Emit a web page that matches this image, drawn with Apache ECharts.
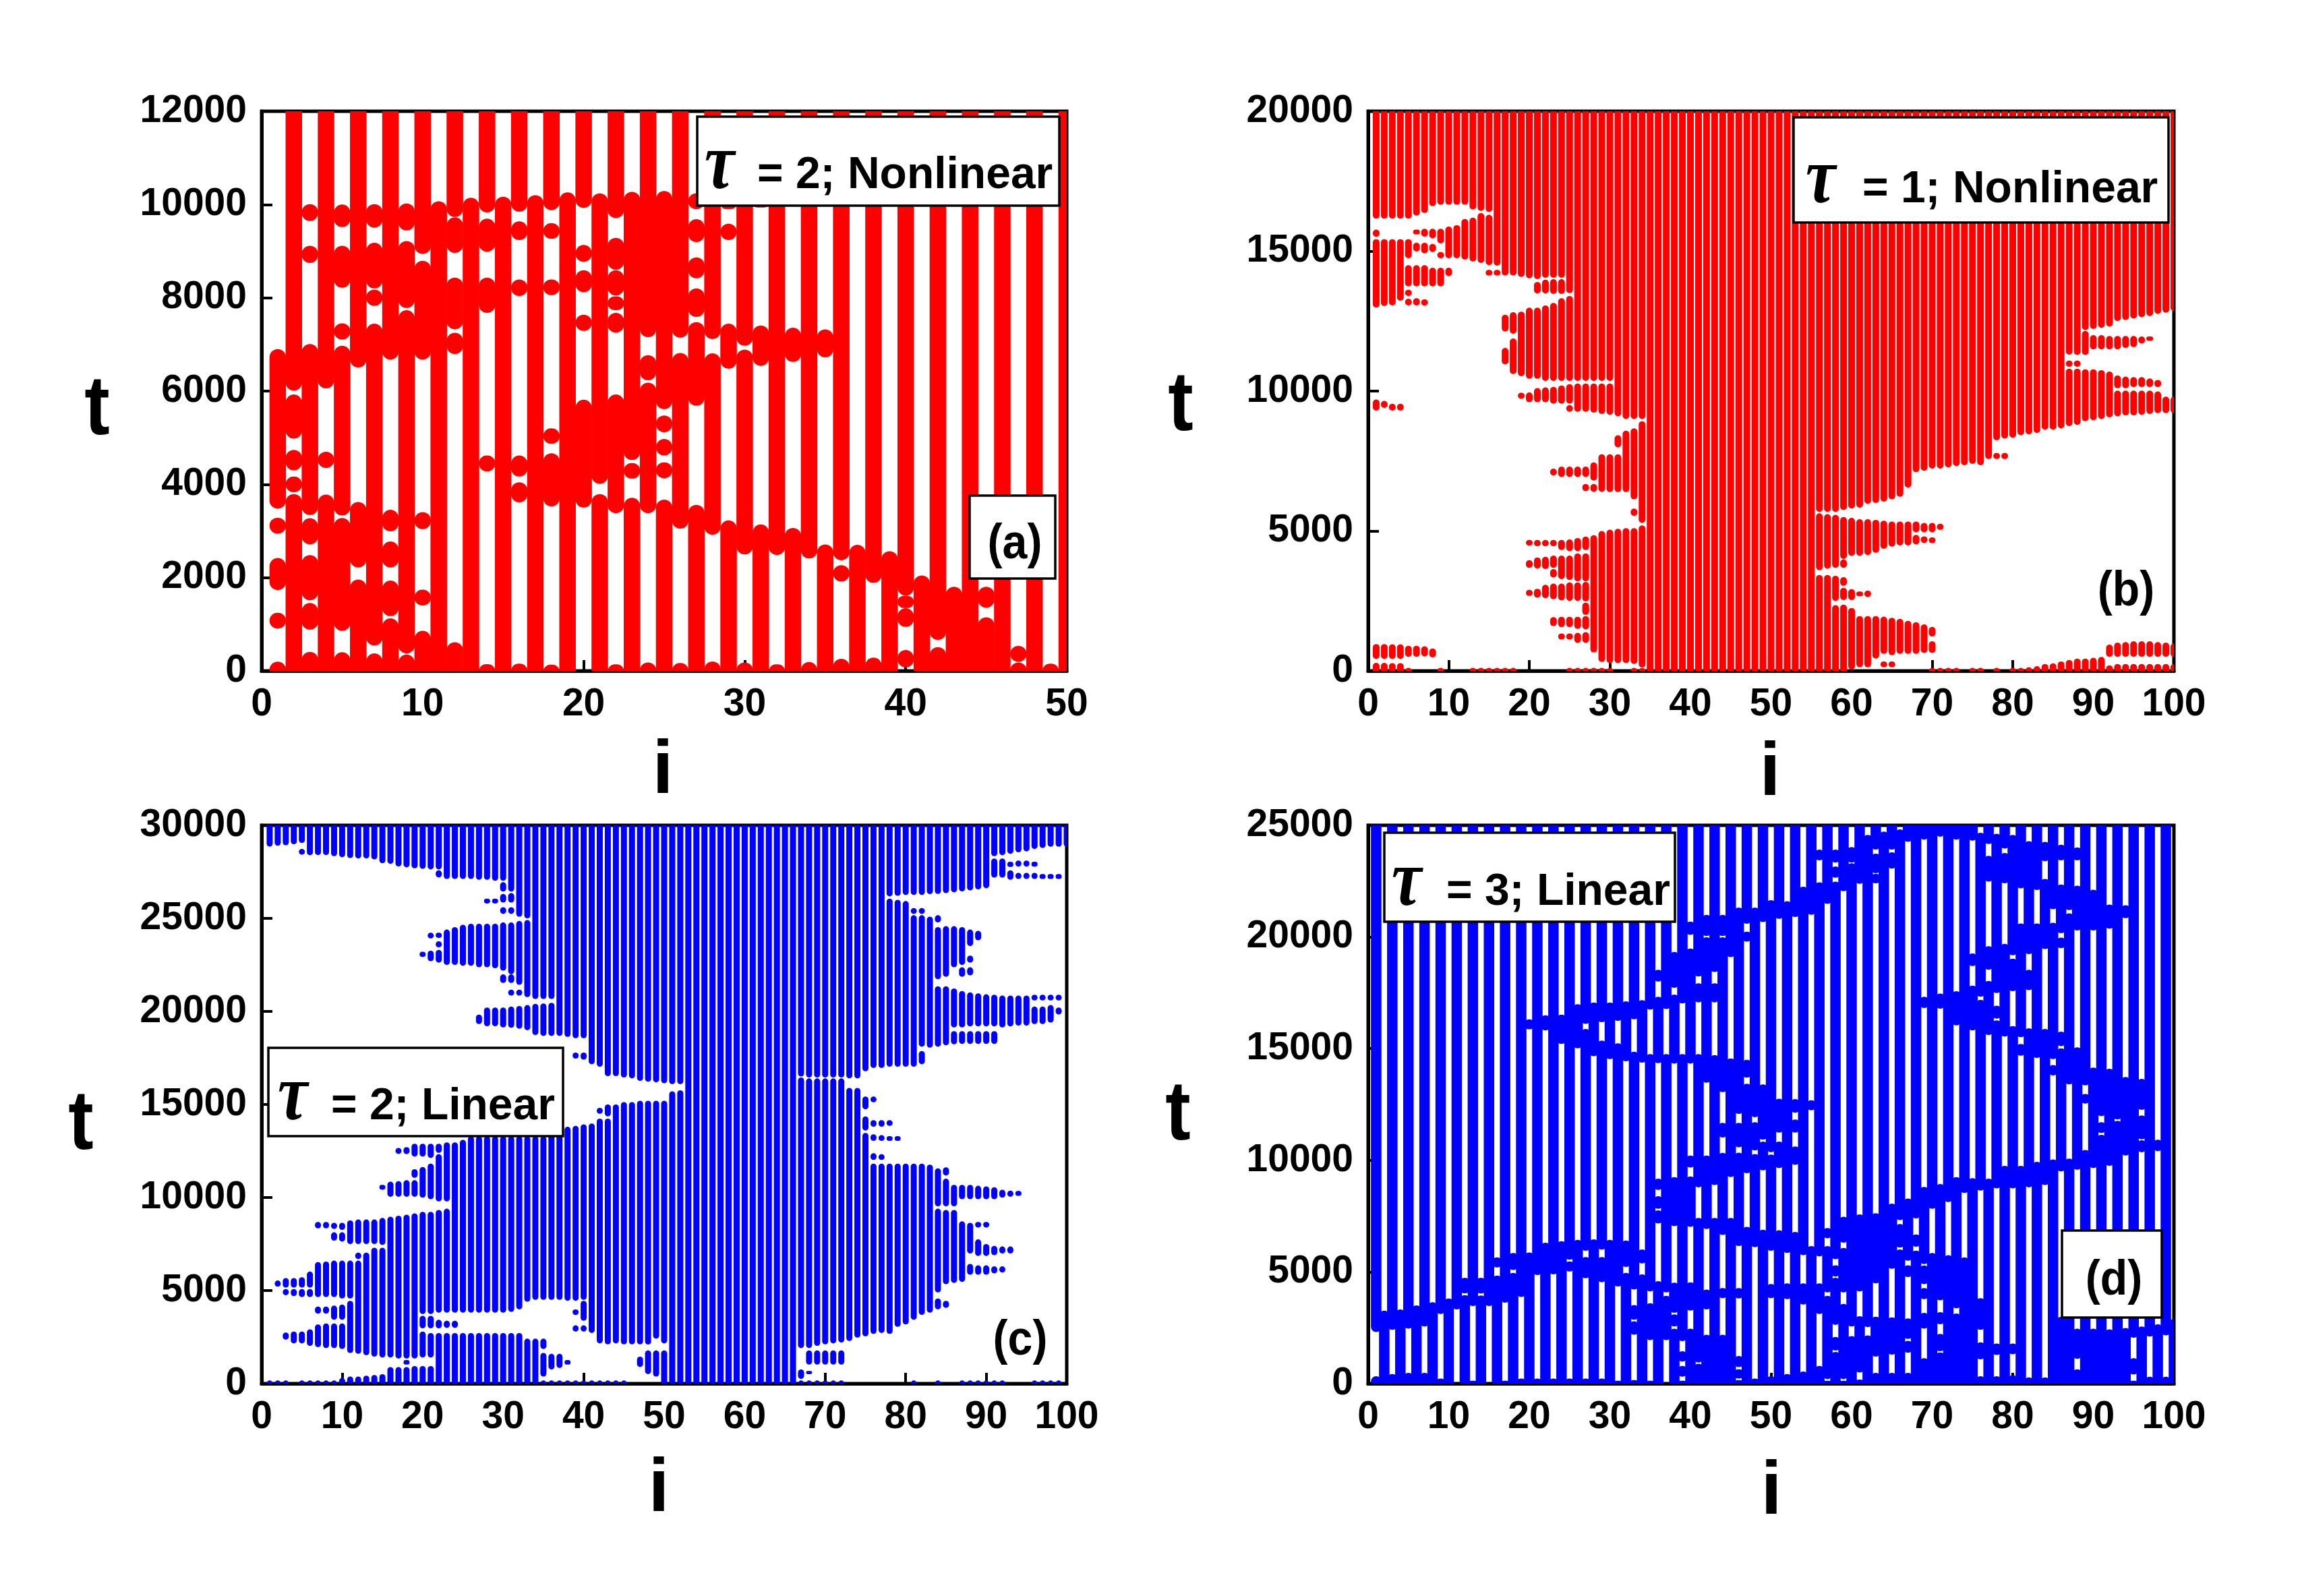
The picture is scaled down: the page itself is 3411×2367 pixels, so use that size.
<!DOCTYPE html>
<html><head><meta charset="utf-8"><style>html,body{margin:0;padding:0;background:#fff}#c{width:3411px;height:2367px}</style>
<script src="https://cdn.jsdelivr.net/npm/echarts@6/dist/echarts.min.js"></script></head><body><div id="c"></div>
<script>
const ticksXa=[0,10,20,30,40,50];
const ticksXb=[0,10,20,30,40,50,60,70,80,90,100];
const ticksYa=[0,2000,4000,6000,8000,10000,12000];
const ticksYb=[0,5000,10000,15000,20000];
const ticksYc=[0,5000,10000,15000,20000,25000,30000];
const ticksYd=[0,5000,10000,15000,20000,25000];
const L=-200,Ta=12400,Tb=20300,Tc=30300,Td=25500;
// occupied t-ranges per site i (index 0 is i=1)
const runsA=[
[[-170,200],[907,1247],[1732,2421],[2945,3283],[3478,6900]],
[[L,3793],[3832,4167],[4300,4739],[4980,5927],[6010,Ta]],
[[L,408],[883,1456],[1514,2484],[2712,3274],[3342,7010],[8746,9117],[9647,10009]],
[[L,3779],[4350,4700],[6057,Ta]],
[[L,400],[858,3280],[3332,6972],[7107,7454],[8216,9117],[9517,10000]],
[[L,1960],[2217,3623],[6505,Ta]],
[[L,375],[544,7445],[7830,8177],[8200,9180],[9503,10009]],
[[L,1126],[1174,1936],[2217,2775],[2993,3454],[6674,Ta]],
[[L,350],[374,7734],[7782,9218],[9445,10023]],
[[L,859],[1402,1742],[3040,3405],[6674,8794],[8940,Ta]],
[[L,10070]],
[[L,616],[6794,7252],[7324,8433],[8963,9725],[9734,Ta]],
[[L,10144]],
[[-170,146],[4278,4618],[7676,8433],[8987,9696],[9830,Ta]],
[[L,10168]],
[[-170,156],[3614,4045],[4167,4618],[8038,8394],[9238,9638],[9845,Ta]],
[[L,10200]],
[[-170,132],[3527,4666],[4870,5200],[8057,8394],[9267,9599],[9879,Ta]],
[[L,10260]],
[[3502,5815],[7290,7637],[8120,8592],[8770,9132],[9927,Ta]],
[[L,3793],[4011,10240]],
[[-170,140],[3381,5927],[7252,7676],[7734,8033],[8047,8592],[8600,9286],[9710,Ta]],
[[L,3711],[4123,4458],[4520,10274]],
[[-170,180],[3381,6182],[6230,6770],[7155,Ta]],
[[L,3672],[4133,4472],[4618,4972],[5117,5476],[5612,10289]],
[[-170,170],[3051,6818],[7146,Ta]],
[[L,3560],[5685,7478],[7590,8202],[8418,8867],[9195,9686],[9900,10240]],
[[-170,204],[2920,6808],[7117,Ta]],
[[L,3226],[6480,7445],[9238,9590],[9900,10144]],
[[-170,180],[2498,6890],[6972,Ta]],
[[L,3140],[6540,7406],[9935,10140]],
[[-170,140],[2484,Ta]],
[[L,3066],[6625,7358]],
[[-170,190],[2410,Ta]],
[[L,2712],[6722,7324]],
[[-170,262],[1916,2266],[2372,Ta]],
[[L,2702]],
[[-170,287],[1887,Ta]],
[[L,2566]],
[[73,447],[942,1344],[1350,1610],[1615,Ta]],
[[L,2047]],
[[-170,510],[665,Ta]],
[[L,1805]],
[[L,Ta]],
[[L,1150],[1354,1805]],
[[L,Ta]],
[[-170,180],[195,534]],
[[L,Ta]],
[[-170,156]],
[[L,Ta]]
];
const runsB=[
[[-120,290],[430,960],[9300,9700],[12980,15430],[15510,15770],[16160,Tb]],
[[-120,290],[430,960],[9400,9650],[13040,15430],[16160,Tb]],
[[-120,280],[430,950],[9300,9550],[13060,15430],[16160,Tb]],
[[-120,280],[430,950],[9300,9550],[13230,15430],[16160,Tb]],
[[-120,110],[500,900],[13060,13300],[13400,13620],[13740,14500],[14750,15430],[16160,Tb]],
[[500,900],[13060,13320],[13740,14500],[14990,15300],[15600,15770],[16270,Tb]],
[[520,880],[13060,13280],[13740,14500],[14920,15300],[15520,15800],[16360,Tb]],
[[480,800],[13740,14410],[14970,15260],[15460,15800],[16610,Tb]],
[[-120,110],[13740,14410],[14750,14970],[15280,15800],[16660,Tb]],
[[14110,14410],[14750,15880],[16660,Tb]],
[[14750,15930],[16660,Tb]],
[[14700,16150],[16660,Tb]],
[[-120,110],[14630,16200],[16490,Tb]],
[[-120,110],[14580,16360],[16440,Tb]],
[[-120,110],[14130,14330],[14500,16300],[16400,Tb]],
[[-120,110],[14130,14330],[14480,Tb]],
[[-120,110],[10950,11540],[12130,12730],[14130,Tb]],
[[-120,110],[10610,11880],[12050,12820],[14130,Tb]],
[[9730,9940],[10530,12840],[14080,Tb]],
[[2680,2900],[3680,3960],[4480,4680],[9600,9950],[10440,12980],[14030,Tb]],
[[2616,2936],[3656,4056],[4456,4680],[9600,10110],[10440,12980],[13490,13900],[14000,Tb]],
[[2600,3080],[3640,4080],[4456,4680],[9600,10130],[10360,13060],[13490,13980],[14050,Tb]],
[[1600,1920],[2560,3120],[3336,3640],[3680,4120],[4456,4680],[6980,7230],[9550,10150],[10360,13150],[13470,14000],[14050,Tb]],
[[1120,1336],[1560,1936],[2520,3120],[3280,4120],[4320,4680],[6930,7300],[9550,10200],[10360,13320],[13470,14000],[14050,Tb]],
[[-120,110],[1120,1336],[1560,1936],[2500,3160],[3250,4120],[4280,4700],[6930,7300],[9260,9500],[9550,10250],[10360,13400],[13500,Tb]],
[[-120,110],[1000,1360],[1500,1936],[2500,3160],[3200,4200],[4280,4750],[6930,7300],[9260,10270],[10360,Tb]],
[[-120,110],[1000,1384],[1480,1960],[2000,2440],[2480,3180],[3200,4200],[4320,4800],[6420,6680],[6930,7300],[9260,10270],[10360,Tb]],
[[-120,110],[660,4850],[6400,6680],[6800,7450],[9230,10270],[10360,Tb]],
[[-120,110],[320,5000],[6400,7740],[9180,10270],[10360,Tb]],
[[-120,110],[280,5050],[6390,7740],[9150,10270],[10360,Tb]],
[[280,5080],[6390,7740],[7990,8420],[9100,Tb]],
[[280,5100],[6390,8585],[9000,Tb]],
[[-120,110],[250,5100],[5540,5800],[6130,8670],[9000,Tb]],
[[-120,110],[120,5200],[5290,8920],[9000,Tb]],
[[L,Tb]],[[L,Tb]],[[L,Tb]],[[L,Tb]],[[L,Tb]],[[L,Tb]],[[L,Tb]],[[L,Tb]],[[L,Tb]],[[L,Tb]],
[[L,Tb]],[[L,Tb]],[[L,Tb]],[[L,Tb]],[[L,Tb]],[[L,Tb]],[[L,Tb]],[[L,Tb]],[[L,Tb]],[[L,Tb]],[[L,Tb]],
[[L,3430],[3600,5630],[5680,Tb]],
[[L,3430],[3650,5600],[5680,Tb]],
[[L,2350],[2500,3400],[3680,5580],[5680,Tb]],
[[L,2370],[2530,2970],[3040,3350],[3680,3980],[4000,5500],[5750,Tb]],
[[50,2250],[2530,2920],[4110,5470],[5800,Tb]],
[[130,1960],[2670,2840],[4110,5420],[5830,Tb]],
[[130,1960],[2640,2870],[4140,5420],[5970,Tb]],
[[440,1960],[4220,5400],[6000,Tb]],
[[135,340],[610,1940],[4360,5370],[6050,Tb]],
[[135,340],[560,1900],[4440,5340],[6130,Tb]],
[[610,1860],[4480,5340],[6220,Tb]],
[[610,1790],[4480,5340],[6550,Tb]],
[[610,1740],[4520,4860],[4950,5340],[7100,Tb]],
[[640,1660],[4570,4810],[4950,5290],[7150,Tb]],
[[-120,110],[640,1060],[1230,1570],[4570,4770],[4950,5290],[7230,Tb]],
[[-120,110],[5040,5260],[7230,Tb]],
[[-120,110],[7270,Tb]],
[[-120,110],[7320,Tb]],
[[7350,Tb]],
[[-120,110],[7400,Tb]],
[[-120,110],[7350,Tb]],
[[7570,Tb]],
[[-120,110],[7570,7790],[8240,Tb]],
[[7570,7790],[8300,Tb]],
[[-120,110],[8330,Tb]],
[[-120,110],[8420,Tb]],
[[-120,130],[8450,Tb]],
[[-120,170],[8500,Tb]],
[[-120,250],[8620,Tb]],
[[-120,270],[8620,Tb]],
[[-120,340],[8670,Tb]],
[[-120,390],[8750,10800],[10870,11090],[11300,Tb]],
[[-120,440],[8790,10800],[10870,11090],[11290,Tb]],
[[-120,440],[8920,10780],[11290,12150],[12180,Tb]],
[[-120,470],[8960,10780],[11490,12000],[12220,Tb]],
[[-120,500],[9000,10750],[11490,12000],[12260,Tb]],
[[-120,200],[500,940],[9060,10700],[11490,11970],[12300,Tb]],
[[-120,250],[500,1010],[9100,10020],[10100,10560],[11490,11970],[12500,Tb]],
[[-120,250],[500,1030],[9130,10020],[10100,10520],[11540,11970],[12540,Tb]],
[[-120,250],[500,1060],[9130,10020],[10140,10500],[11570,11970],[12590,Tb]],
[[-120,250],[500,1060],[9150,10020],[10140,10500],[11700,11950],[12640,Tb]],
[[-120,250],[500,1060],[9180,10020],[10140,10450],[11800,11950],[12680,Tb]],
[[-120,250],[500,1030],[9210,9990],[10140,10400],[12760,Tb]],
[[-120,250],[500,1010],[9210,9800],[12800,Tb]],
[[-120,250],[500,980],[9210,9800],[12860,Tb]]
];
const runsC=[
[[-170,170],[28860,Tc]],
[[-170,170],[5210,5540],[28900,Tc]],
[[-170,170],[2360,2745],[4750,5080],[5160,5670],[28930,Tc]],
[[2160,2800],[4700,5080],[5160,5670],[28980,Tc]],
[[-170,170],[2160,2800],[4650,5080],[5160,5720],[28420,28730],[29050,Tc]],
[[-170,170],[2030,2920],[4650,5080],[5160,6020],[28390,Tc]],
[[-170,170],[1960,3180],[3760,4140],[4650,6530],[8340,8690],[28400,Tc]],
[[-170,170],[1910,3230],[3760,4140],[4650,6560],[8340,8690],[28400,Tc]],
[[-170,170],[1910,3230],[3430,4190],[4650,6610],[7680,8130],[8310,8640],[28340,Tc]],
[[-170,305],[1860,3230],[3430,4245],[4575,6610],[7630,8130],[8260,8640],[28290,Tc]],
[[-170,380],[1650,4450],[4575,6610],[7500,8770],[28240,Tc]],
[[-170,380],[1600,6610],[6690,7040],[7500,8820],[28220,Tc]],
[[-170,430],[1525,7040],[7500,8820],[28220,Tc]],
[[-170,460],[1450,7300],[7500,8820],[28170,Tc]],
[[-170,510],[1400,7300],[7450,8900],[10420,10680],[27960,Tc]],
[[-170,890],[1400,8970],[10040,10850],[27930,Tc]],
[[-170,890],[1350,9025],[10040,10880],[12350,12660],[27790,Tc]],
[[-170,890],[1020,1270],[1350,9075],[10040,10930],[12330,12710],[27740,Tc]],
[[-170,940],[1350,9150],[10040,10930],[11060,11520],[12200,12890],[27690,Tc]],
[[-170,940],[1400,2800],[2970,3640],[3740,9230],[9990,11640],[12200,12890],[22930,23210],[27660,Tc]],
[[-170,940],[1400,2720],[2970,3640],[3740,9230],[9910,11820],[12130,12890],[22700,23260],[23920,24230],[27630,Tc]],
[[-170,2720],[2970,3430],[3810,9330],[9790,12330],[12400,12890],[22620,23310],[23440,23770],[23950,24230],[27200,27580],[27630,Tc]],
[[-170,2720],[3000,3380],[3810,9400],[9790,12960],[22500,24400],[27120,Tc]],
[[-170,2720],[3000,3380],[3810,12960],[22500,24530],[27120,Tc]],
[[-170,2720],[3810,13100],[22450,24660],[27120,Tc]],
[[-170,2720],[3810,13290],[22450,24710],[27120,Tc]],
[[-170,2720],[3810,13290],[19320,19830],[22370,24710],[27070,Tc]],
[[-170,2720],[3810,13290],[19200,20210],[22370,24710],[25800,26060],[27070,Tc]],
[[-170,2720],[3810,13290],[19200,20210],[22320,24710],[25800,26060],[27020,Tc]],
[[-170,2720],[3810,13290],[19140,20210],[21530,21990],[22190,24780],[25240,25600],[25850,26310],[26440,26945],[27020,Tc]],
[[-170,2720],[3860,13290],[19120,20260],[20850,21170],[21530,21990],[22000,24780],[25240,25600],[25850,26360],[26440,Tc]],
[[-170,2720],[3990,13290],[19070,20290],[20850,21170],[21430,24860],[25090,Tc]],
[[-170,2415],[4400,13290],[18990,20340],[20770,24910],[25000,Tc]],
[[-170,2415],[4500,13290],[18730,20410],[20670,Tc]],
[[-170,170],[380,1650],[1860,2415],[4500,13290],[18680,20430],[20670,Tc]],
[[-170,170],[760,1600],[4500,13730],[18680,20460],[20670,Tc]],
[[-170,170],[840,1600],[4500,13800],[18680,Tc]],
[[-170,170],[1020,1270],[4450,13800],[18630,Tc]],
[[-170,170],[2800,3130],[3690,3990],[4450,13850],[17460,17790],[18560,Tc]],
[[-170,170],[2800,3130],[3380,4450],[4500,13930],[17410,17790],[18560,Tc]],
[[-170,170],[2720,13980],[17160,Tc]],
[[-170,170],[2160,14240],[14500,14820],[17030,Tc]],
[[-170,170],[2110,14240],[14360,15000],[16520,Tc]],
[[-170,170],[2160,15000],[16520,Tc]],
[[-170,170],[2110,15125],[16450,Tc]],
[[2110,15125],[16400,Tc]],
[[890,1450],[2110,15200],[16270,Tc]],
[[510,1780],[2100,15200],[16220,Tc]],
[[380,1780],[2415,15200],[16190,Tc]],
[[L,1780],[2160,15200],[16140,Tc]],
[[L,15710],[16090,Tc]],
[[L,15760],[16090,Tc]],
[[L,Tc]],[[L,Tc]],[[L,Tc]],[[L,Tc]],[[L,Tc]],[[L,Tc]],[[L,Tc]],[[L,Tc]],[[L,Tc]],[[L,Tc]],[[L,Tc]],[[L,Tc]],[[L,Tc]],[[L,Tc]],
[[-170,170],[255,760],[1910,16450],[16500,Tc]],
[[-170,170],[510,680],[1020,1780],[1910,16400],[16450,Tc]],
[[-170,170],[1020,1780],[2030,16400],[16450,Tc]],
[[-170,170],[1020,1780],[2110,16400],[16450,Tc]],
[[-170,170],[1020,1780],[2160,16400],[16450,Tc]],
[[-170,170],[1020,1780],[2210,16400],[16450,Tc]],
[[2290,15890],[16400,Tc]],
[[2470,15890],[16400,Tc]],
[[2540,13470],[13600,14360],[14740,15430],[16780,Tc]],
[[2670,11820],[12020,12380],[13040,13400],[13800,14160],[15120,15430],[16960,Tc]],
[[2720,11820],[12020,12330],[13040,13350],[13800,14160],[16960,Tc]],
[[2670,11820],[13040,13300],[13850,14160],[17030,26060],[26180,Tc]],
[[3050,11820],[13040,13300],[17030,26000],[26210,Tc]],
[[3180,11820],[17030,25930],[26260,Tc]],
[[-170,170],[3430,11820],[17030,25170],[25240,25550],[26260,Tc]],
[[3690,11820],[17160,17870],[18100,25170],[25240,25550],[26260,Tc]],
[[3810,11770],[18050,25090],[26300,Tc]],
[[-170,170],[3990,4575],[4900,9400],[9530,11570],[18100,21350],[21730,24530],[24780,25170],[26310,Tc]],
[[4070,4450],[5340,9330],[9530,11010],[11180,11620],[18180,21350],[21860,24580],[26360,Tc]],
[[5410,9330],[9530,10680],[18230,18940],[19140,21230],[22370,24580],[26400,Tc]],
[[-170,170],[5465,8720],[9910,10680],[18250,18940],[19140,21100],[21860,22370],[22500,24530],[26450,Tc]],
[[-170,170],[5850,6430],[6990,8640],[9910,10680],[18250,18940],[19190,21020],[21940,22370],[22620,23000],[23510,24400],[26500,Tc]],
[[-170,170],[5850,6355],[6860,7750],[8390,8690],[9910,10630],[18250,18940],[19190,20970],[23820,24330],[26560,Tc]],
[[-170,170],[5850,6355],[6860,7500],[8390,8690],[9910,10600],[18250,18940],[19190,20920],[26620,Tc]],
[[-170,170],[5920,6300],[6900,7400],[9910,10550],[18250,18940],[19190,20900],[27190,28220],[28340,Tc]],
[[-170,170],[5970,6300],[6990,7370],[9990,10420],[19140,20850],[27190,28220],[28390,Tc]],
[[6990,7370],[10040,10370],[19190,20850],[27070,27580],[27760,28040],[28470,Tc]],
[[10090,10350],[19240,20850],[27120,27450],[27780,28110],[28550,Tc]],
[[19240,20850],[27120,27450],[27780,28110],[28600,Tc]],
[[-170,170],[19320,20260],[20590,20900],[27120,27450],[27780,28040],[28725,Tc]],
[[-170,170],[19320,20260],[20590,20900],[27120,27380],[28780,Tc]],
[[-170,170],[19400,20340],[20590,20900],[27120,27380],[28850,Tc]],
[[-170,170],[19830,20210],[20590,20900],[27120,27380],[28850,Tc]],
[[28850,Tc]]
];
// empty t-ranges per site i in panel (d)
const gapsD=[
[[330,2310]],
[[3270,Td]],
[[430,2410]],
[[3320,Td]],
[[480,2460]],
[[3500,Td]],
[[480,2560]],
[[3645,Td]],
[[230,3120]],
[[3810,Td]],
[[L,3320]],
[[3960,4040],[4740,Td]],
[[130,3470]],
[[3950,4030],[4740,Td]],
[[L,3470]],
[[4840,5200],[5650,Td]],
[[130,3625]],
[[4960,5090],[5850,Td]],
[[230,3880]],
[[5874,15863],[16315,Td]],
[[230,4860]],
[[6310,15810],[16490,Td]],
[[230,4890]],
[[6380,15210],[16520,Td]],
[[230,5020],[5470,5550]],
[[6440,15010],[16990,Td]],
[[230,4720],[5670,5950],[15880,16110]],
[[6460,14660],[17070,Td]],
[[230,4540],[5670,6000],[15360,16180]],
[[6440,14530],[17070,Td]],
[[130,4350],[15240,16240]],
[[4960,5225],[6410,14430],[17120,Td]],
[[160,2190],[2790,2860],[3520,4210],[14860,16310]],
[[4890,5380],[6005,14375],[17170,Td]],
[[130,1950],[3600,4130],[14760,16750]],
[[4590,7170],[7760,7830],[8390,8670],[9180,14350],[17320,18000],[18530,Td]],
[[L,1950],[3930,4080],[14760,16770]],
[[2460,2560],[3100,3170],[4520,7050],[9250,14330],[17420,17720],[19330,Td]],
[[130,310],[790,990],[1450,1900],[14760,17020]],
[[2460,3270],[4540,7020],[9280,9680],[10210,14330],[19480,20090],[20690,Td]],
[[890,940],[7420,8790],[14760,17070],[17930,18230]],
[[2190,3320],[4210,6920],[10210,13470],[19990,20040],[20990,Td]],
[[7420,8890],[14710,17070],[17930,18430]],
[[2190,3830],[4280,6660],[10330,11020],[11680,13050],[19990,20040],[20990,Td]],
[[7420,9250],[14560,19100]],
[[160,230],[640,740],[1240,3810],[4280,6160],[10340,10580],[11680,12080],[21320,Td]],
[[7020,9420],[13430,13700],[14500,19790],[20240,20590]],
[[230,6110],[10280,10440],[11710,11930],[21320,Td]],
[[6890,9550],[10840,10920],[13400,20670]],
[[330,3830],[4460,5950],[10260,10360],[21650,Td]],
[[6870,9650],[10840,11240],[12760,20810]],
[[430,3780],[4490,5850],[21600,Td]],
[[6790,9800],[10620,11240],[11830,12130],[12740,20890]],
[[540,3540],[4490,5750],[22250,Td]],
[[6160,12240],[12690,20990]],
[[790,3120],[4490,5700],[22450,23430],[23910,Td]],
[[130,200],[3930,4080],[6160,6510],[6970,21480]],
[[1420,1480],[2090,2630],[4740,4790],[5300,5570],[22480,22650],[23160,23330],[23910,Td]],
[[130,200],[3570,4080],[6080,6310],[7470,22050]],
[[2130,2560],[23300,23330],[24030,Td]],
[[180,500],[3020,4130],[7580,22380]],
[[2160,2530],[24570,Td]],
[[480,1210],[3000,4490],[7630,22400],[22825,22855],[23730,23910]],
[[24720,Td]],
[[480,1300],[2970,5140],[8060,23060],[23790,23910]],
[[6005,6090],[7150,7320],[24820,Td]],
[[480,1380],[1920,2000],[2920,4770],[5300,5500],[8290,24260]],
[[5955,6130],[6680,7400]],
[[1140,2460],[3170,3780],[4280,4450],[5290,5350],[8810,16820],[17320,24360]],
[[5850,7830]],
[[1400,1450],[2230,2660],[3200,3730],[8940,16790],[17470,24490]],
[[5750,8130]],
[[3140,3370],[9250,16040],[17570,24360]],
[[5650,8540]],
[[9200,15810],[17825,18700],[19260,24310]],
[[330,1090],[1850,2410],[3830,8640],[17190,17320],[24670,Td]],
[[9180,15610],[18030,18530],[19585,22480],[23630,24160]],
[[330,1280],[1800,8740],[16270,16340],[16920,17490],[24620,Td]],
[[9750,15540],[19690,22400],[23760,23960]],
[[380,1310],[1800,8740],[16010,17570],[19030,19180],[24570,Td]],
[[9750,14680],[15210,15510],[20610,22180]],
[[280,8790],[15910,17620],[18530,19230],[24290,Td]],
[[9930,14580],[20610,22100]],
[[280,8890],[15880,19460],[22600,23390],[24260,Td]],
[[10040,13800],[14270,14530],[20640,21240]],
[[2990,9500],[15010,15110],[15760,19500],[19970,20170],[22350,23430],[24130,Td]],
[[10080,13400],[21060,21200]],
[[640,1110],[2460,9580],[15060,20290],[22300,23430],[24010,Td]],
[[10460,12540],[12970,13350]],
[[2460,9650],[14150,20290],[22120,Td]],
[[11140,11220],[11710,11980]],
[[2430,9750],[14100,20370],[21450,Td]],
[[11770,11830]],
[[2490,10210],[13730,20840],[21420,Td]],
[[130,410],[1140,2055]],
[[2560,10360],[10900,10940],[12010,12260],[13650,Td]],
[[310,2105]],
[[2660,10410],[10920,Td]],
[[310,2156]],
[[2900,Td]]
];
function complement(gaps,lo,hi){const out=[];let cur=lo;gaps.forEach(g=>{if(g[0]>cur)out.push([cur,g[0]]);cur=g[1];});if(cur<hi)out.push([cur,hi]);return out;}
const runsD=gapsD.map(g=>complement(g,L,Td));
function flat(runs){const d=[];runs.forEach((rs,k)=>rs.forEach(r=>d.push([k+1,r[0],r[1]])));return d;}

const SANS='"Liberation Sans",Arial,sans-serif';
const TAU='"Liberation Serif",serif';
const panels=[
 {left:388,top:165,w:1194,h:830,xMax:50,xT:10,yT:ticksYa,runs:runsA,color:'#ff0000',mw:24.5,tOff:[144,610],iOff:[983,1145]},
 {left:2029,top:165,w:1195,h:830,xMax:100,xT:10,yT:ticksYb,runs:runsB,color:'#ff0000',mw:10,tOff:[1751,604],iOff:[2625,1148]},
 {left:388,top:1224,w:1194,h:828,xMax:100,xT:10,yT:ticksYc,runs:runsC,color:'#0000ff',mw:9,tOff:[120,1670],iOff:[977,2210]},
 {left:2029,top:1224,w:1195,h:828,xMax:100,xT:10,yT:ticksYd,runs:runsD,color:'#0000ff',mw:15.5,tOff:[1747,1656],iOff:[2627,2214]}
];
const axisCommon={axisLine:{show:true,onZero:false,lineStyle:{color:'#000',width:5}},
 axisTick:{show:true,inside:true,length:16,lineStyle:{color:'#000',width:4}},splitLine:{show:false},
 axisLabel:{color:'#000',fontFamily:SANS,fontWeight:'bold',fontSize:57,margin:22,formatter:v=>String(v)}};
const grid=[],xAxis=[],yAxis=[],series=[];
panels.forEach((p,n)=>{
 grid.push({left:p.left,top:p.top,width:p.w,height:p.h,show:true,borderColor:'#000',borderWidth:5,backgroundColor:'transparent'});
 xAxis.push(Object.assign({type:'value',gridIndex:n,min:0,max:p.xMax,interval:p.xT},axisCommon));
 const yt=p.yT;
 yAxis.push(Object.assign({type:'value',gridIndex:n,min:0,max:yt[yt.length-1],interval:yt[1]-yt[0]},axisCommon));
 series.push({type:'custom',xAxisIndex:n,yAxisIndex:n,clip:true,silent:true,progressive:0,
  encode:{x:0,y:[1,2]},data:flat(p.runs),
  renderItem:(params,api)=>{
   const a=api.coord([api.value(0),api.value(1)]),b=api.coord([api.value(0),api.value(2)]);
   const h=a[1]-b[1];
   return {type:'rect',shape:{x:a[0]-p.mw/2,y:b[1],width:p.mw,height:h,r:Math.min(p.mw,h)/2},style:{fill:p.color}};
  }});
});
function txt(x,y,s,size,fam,extra,sx){return {type:'text',z:20,x:x,y:y,scaleX:sx||1,style:Object.assign({text:s,fill:'#000',font:`bold ${size}px ${fam}`,textAlign:'center',textVerticalAlign:'middle'},extra||{})};}
function box(x0,y0,x1,y1){return {type:'rect',z:18,shape:{x:x0,y:y0,width:x1-x0,height:y1-y0},style:{fill:'#fff',stroke:'#000',lineWidth:3.5}};}
const legends=[
 {b:[1034,173,1571,305],tx:1067,lx:1123,ty:261,s:'= 2; Nonlinear'},
 {b:[2660,174,3216,330],tx:2700,lx:2762,ty:282,s:'= 1; Nonlinear'},
 {b:[398,1554,835,1685],tx:434,lx:491,ty:1642,s:'= 2; Linear'},
 {b:[2053,1235,2484,1367],tx:2086,lx:2145,ty:1324,s:'= 3; Linear'}
];
const tags=[['(a)',1505,808,true,[1438,735,1565,858]],['(b)',3153,878,false],['(c)',1513,1989,false],['(d)',3135,1900,true,[3058,1825,3206,1954]]];
const graphic=[];
legends.forEach(l=>{graphic.push(box(...l.b));
 graphic.push(txt(l.tx,l.ty-12,'τ',118,TAU,{font:`italic bold 118px ${TAU}`},0.85));
 graphic.push(txt(l.lx,l.ty,l.s,66,SANS,{textAlign:'left'}));});
tags.forEach(t=>{if(t[3])graphic.push(box(...t[4]));graphic.push(txt(t[1],t[2],t[0],72,SANS,null,0.92));});
panels.forEach(p=>{graphic.push(txt(p.tOff[0],p.tOff[1],'t',125,SANS,null,0.9));graphic.push(txt(p.iOff[0],p.iOff[1],'i',112,SANS));});
const chart=echarts.init(document.getElementById('c'),null,{renderer:'canvas',width:3411,height:2367,devicePixelRatio:1});
chart.setOption({animation:false,backgroundColor:'#fff',tooltip:{show:false},grid,xAxis,yAxis,series,graphic});
</script></body></html>
